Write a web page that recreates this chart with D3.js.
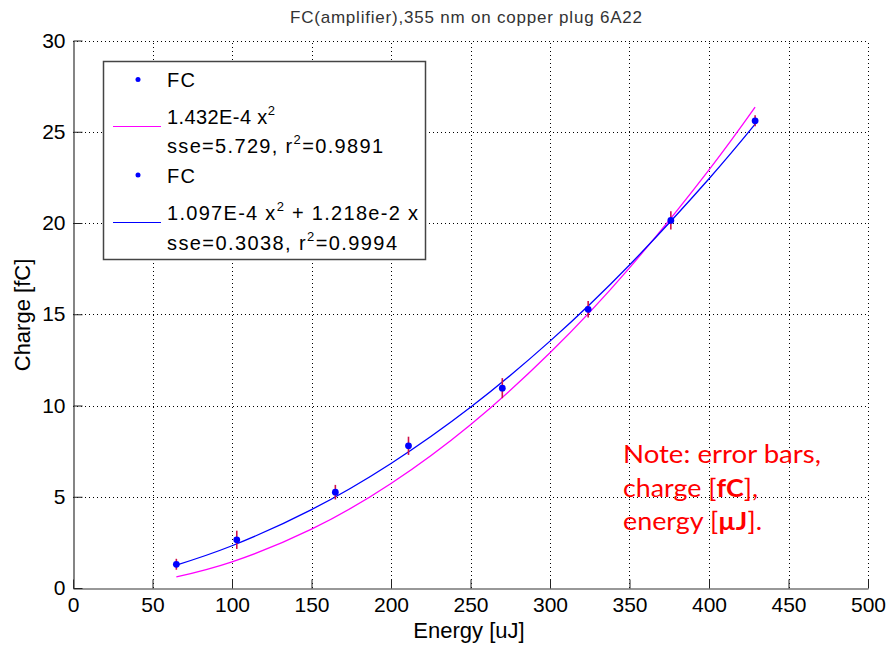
<!DOCTYPE html>
<html><head><meta charset="utf-8">
<script src="https://cdn.jsdelivr.net/npm/d3@7"></script>
<style>
html,body{margin:0;padding:0;background:#fff;}
svg{display:block;font-family:"Liberation Sans",Arial,sans-serif;}
</style></head>
<body>
<svg id="chart" width="889" height="645"></svg>
<script>
// ---- data ----
const energy = [65, 103, 165, 211, 270, 324, 376, 429];
const charge = [1.3, 2.64, 5.25, 7.79, 10.95, 15.27, 20.14, 25.6];
const chargeErr = [0.3, 0.5, 0.4, 0.5, 0.55, 0.45, 0.5, 0.3];
const fitX = [65, 100, 150, 200, 250, 300, 350, 400, 429];
const fitQuad = [0.605, 1.432, 3.222, 5.728, 8.95, 12.888, 17.542, 22.912, 26.35];
const fitQuadLin = [1.255, 2.315, 4.295, 6.824, 9.901, 13.527, 17.701, 22.424, 25.414];
const xTicks = [0, 50, 100, 150, 200, 250, 300, 350, 400, 450, 500];
const yTicks = [0, 5, 10, 15, 20, 25, 30];
const titleText = "FC(amplifier),355 nm on copper plug 6A22";
const xLabel = "Energy [uJ]";
const yLabel = "Charge [fC]";

const svg = d3.select("#chart");
const x = d3.scaleLinear().domain([0, 500]).range([73, 868]);
const y = d3.scaleLinear().domain([0, 30]).range([588, 40.5]);

// grid
const grid = svg.append("g").attr("stroke", "#000").attr("stroke-width", 1).attr("stroke-dasharray", "1,3");
grid.selectAll(".gx").data(xTicks.filter(d => d > 0)).join("line")
  .attr("x1", d => Math.round(x(d)) + 0.5).attr("x2", d => Math.round(x(d)) + 0.5)
  .attr("y1", y(0)).attr("y2", y(30));
grid.selectAll(".gy").data(yTicks.filter(d => d > 0)).join("line")
  .attr("y1", d => Math.round(y(d)) + 0.5).attr("y2", d => Math.round(y(d)) + 0.5)
  .attr("x1", x(0)).attr("x2", x(500));

// axes
const xAxis = d3.axisBottom(x).tickValues(xTicks).tickSizeInner(-9).tickSizeOuter(0).tickPadding(9);
const yAxis = d3.axisLeft(y).tickValues(yTicks).tickSizeInner(-9).tickSizeOuter(0).tickPadding(8);
const gx = svg.append("g").attr("transform", `translate(0,${Math.round(y(0)) + 0.5})`).call(xAxis);
const gy = svg.append("g").attr("transform", `translate(${Math.round(x(0)) + 0.5},0)`).call(yAxis);
[gx, gy].forEach(g => {
  g.select(".domain").attr("stroke", "#333").attr("stroke-width", 1.2);
  g.selectAll(".tick line").attr("stroke", "#222");
  g.selectAll(".tick text").attr("font-family", "Liberation Sans, Arial, sans-serif")
    .attr("font-size", 21).attr("fill", "#000");
});

// fit curves
const line = d3.line().x(d => x(d[0])).y(d => y(d[1])).curve(d3.curveNatural);
svg.append("path").datum(fitX.map((v, i) => [v, fitQuad[i]]))
  .attr("d", line).attr("fill", "none").attr("stroke", "#ff00ff").attr("stroke-width", 1.3);
svg.append("path").datum(fitX.map((v, i) => [v, fitQuadLin[i]]))
  .attr("d", line).attr("fill", "none").attr("stroke", "#0000ff").attr("stroke-width", 1.3);

// error bars + points
const pts = energy.map((e, i) => ({e, c: charge[i], err: chargeErr[i]}));
svg.append("g").selectAll("line").data(pts).join("line")
  .attr("x1", d => x(d.e)).attr("x2", d => x(d.e))
  .attr("y1", d => y(d.c + d.err)).attr("y2", d => y(d.c - d.err))
  .attr("stroke", "#d0104a").attr("stroke-width", 1.6);
svg.append("g").selectAll("circle").data(pts).join("circle")
  .attr("cx", d => x(d.e)).attr("cy", d => y(d.c)).attr("r", 3.4).attr("fill", "#0000ff");

// title and axis labels
svg.append("text").attr("x", 290).attr("y", 23)
  .attr("font-size", 17).attr("fill", "#333")
  .attr("textLength", 352).attr("lengthAdjust", "spacing").text(titleText);
svg.append("text").attr("x", 469).attr("y", 638).attr("text-anchor", "middle")
  .attr("font-size", 22).attr("fill", "#000").text(xLabel);
svg.append("text").attr("transform", "translate(30,315) rotate(-90)").attr("text-anchor", "middle")
  .attr("font-size", 22).attr("fill", "#000").text(yLabel);

// legend
const leg = svg.append("g");
leg.append("rect").attr("x", 103.5).attr("y", 61.5).attr("width", 322).attr("height", 198)
  .attr("fill", "#fff").attr("stroke", "#444").attr("stroke-width", 1.5);
const legFs = 20;
function addText(yb, len, parts) {
  const t = leg.append("text").attr("x", 167).attr("y", yb).attr("font-size", legFs).attr("fill", "#000")
    .attr("textLength", len).attr("lengthAdjust", "spacing");
  parts.forEach(p => {
    if (p.sup) t.append("tspan").attr("font-size", 13).attr("dy", -9).text(p.t);
    else if (p.after) t.append("tspan").attr("dy", 9).text(p.t);
    else t.append("tspan").text(p.t);
  });
}
leg.append("circle").attr("cx", 138).attr("cy", 79.5).attr("r", 2.5).attr("fill", "#0000ff");
addText(87, 28, [{t: "FC"}]);
leg.append("line").attr("x1", 113).attr("x2", 161).attr("y1", 126.5).attr("y2", 126.5).attr("stroke", "#ff00ff").attr("stroke-width", 1.2);
addText(124, 108, [{t: "1.432E-4 x"}, {t: "2", sup: true}]);
addText(153, 216, [{t: "sse=5.729, r"}, {t: "2", sup: true}, {t: "=0.9891", after: true}]);
leg.append("circle").attr("cx", 138).attr("cy", 175).attr("r", 2.5).attr("fill", "#0000ff");
addText(183, 28, [{t: "FC"}]);
leg.append("line").attr("x1", 113).attr("x2", 161).attr("y1", 222.5).attr("y2", 222.5).attr("stroke", "#0000ff").attr("stroke-width", 1.2);
addText(220, 251, [{t: "1.097E-4 x"}, {t: "2", sup: true}, {t: " + 1.218e-2 x", after: true}]);
addText(249.5, 230, [{t: "sse=0.3038, r"}, {t: "2", sup: true}, {t: "=0.9994", after: true}]);

// note
const noteFont = "Lato, 'Open Sans', sans-serif";
const note = svg.append("g").style("font-family", noteFont).attr("font-size", 25).attr("fill", "#ff0000");
note.append("text").attr("x", 623).attr("y", 463).style("font-family", noteFont)
  .attr("textLength", 198).attr("lengthAdjust", "spacingAndGlyphs").text("Note: error bars,");
const n2 = note.append("text").attr("x", 623).attr("y", 497).style("font-family", noteFont)
  .attr("textLength", 135).attr("lengthAdjust", "spacingAndGlyphs");
n2.append("tspan").text("charge [");
n2.append("tspan").attr("font-weight", "bold").text("fC");
n2.append("tspan").text("],");
const n3 = note.append("text").attr("x", 623).attr("y", 530).style("font-family", noteFont)
  .attr("textLength", 139).attr("lengthAdjust", "spacingAndGlyphs");
n3.append("tspan").text("energy [");
n3.append("tspan").attr("font-weight", "bold").text("µJ");
n3.append("tspan").text("].");
</script>
</body></html>
